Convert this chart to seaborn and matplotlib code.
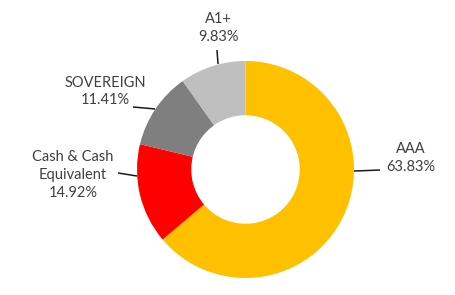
import matplotlib
matplotlib.use("Agg")
import matplotlib.pyplot as plt
import seaborn as sns

# Data
categories = ["AAA", "Cash & Cash\nEquivalent", "SOVEREIGN", "A1+"]
values = [63.83, 14.92, 11.41, 9.83]
colors = ["#FFC000", "#FF0000", "#7F7F7F", "#BFBFBF"]

# Layout (data coords of pie with radius 1)
label_pos = [(1.526, 0.106), (-1.590, -0.051), (-1.295, 0.719), (-0.253, 1.304)]
leader_start = [(1.0, -0.014), (-1.0, -0.06), (-0.834, 0.558), (-0.253, 0.972)]
leader_end = [(1.24, -0.005), (-1.175, -0.032), (-1.037, 0.576), (-0.263, 1.101)]

sns.set_theme(style="white")
plt.rcParams["font.family"] = ["Lato", "DejaVu Sans"]

W, H = 456, 295
fig = plt.figure(figsize=(W / 100, H / 100), dpi=100)
cx, cy, r = 245.5, 169.5, 108.5
ax = fig.add_axes([(cx - r) / W, (H - cy - r) / H, 2 * r / W, 2 * r / H])
ax.set_xlim(-1, 1)
ax.set_ylim(-1, 1)
ax.set_aspect("equal")
ax.axis("off")

ax.pie(values, colors=colors, startangle=90, counterclock=False, radius=1,
       wedgeprops=dict(width=0.5, edgecolor="none"))
ax.set_xlim(-1, 1)
ax.set_ylim(-1, 1)

for cat, v, (tx, ty), s, e in zip(categories, values, label_pos, leader_start, leader_end):
    ax.text(tx, ty, f"{cat}\n{v:.2f}%", ha="center", va="center", fontsize=10.5,
            color="#404040", linespacing=1.35, clip_on=False)
    ax.plot([s[0], e[0]], [s[1], e[1]], color="#1a1a1a", lw=1.1, clip_on=False,
            solid_capstyle="butt")

fig.savefig("out.png", dpi=100, facecolor="white")
